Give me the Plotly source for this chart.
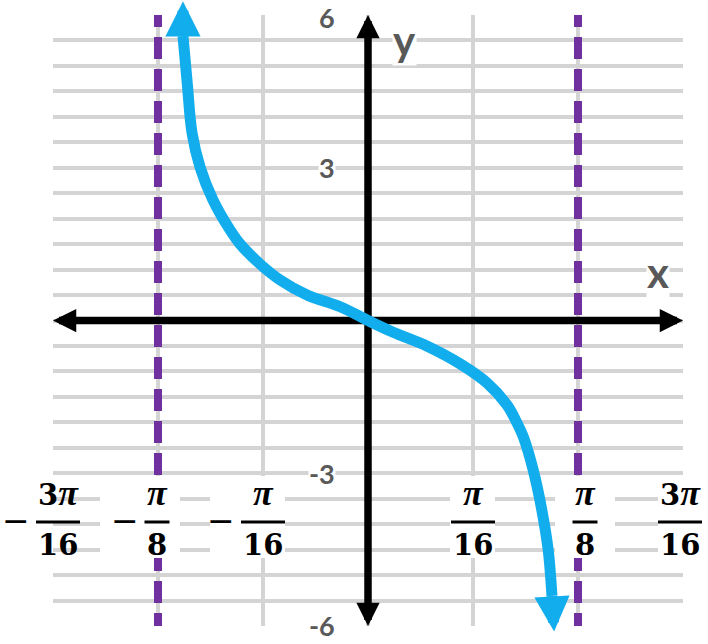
import math
import plotly.graph_objects as go

PI = math.pi

# ---------------- data ----------------
x_range = [-3 * PI / 16, 3 * PI / 16]
y_range = [-6, 6]

x_tick_vals = [-3 * PI / 16, -PI / 8, -PI / 16, PI / 16, PI / 8, 3 * PI / 16]
x_tick_coef = ["3", "", "", "", "", "3"]
x_tick_den = ["16", "8", "16", "16", "8", "16"]
x_tick_sign = ["−", "−", "−", "", "", ""]

y_tick_vals = [6, 3, -3, -6]
y_tick_text = ["6", "3", "-3", "-6"]

asymptote_x = [-PI / 8, PI / 8]

# curve (from the upper-left branch end to the lower-right one)
curve_x = [-0.346, -0.338, -0.329, -0.314, -0.290, -0.258, -0.239, -0.202, -0.165,
           -0.114, -0.052, 0.0, 0.047, 0.110, 0.172, 0.223, 0.260, 0.279, 0.291,
           0.309, 0.325, 0.337, 0.344]
curve_y = [5.59, 4.66, 3.68, 3.01, 2.37, 1.78, 1.50, 1.11, 0.80,
           0.50, 0.27, 0.0, -0.23, -0.50, -0.85, -1.23, -1.66, -2.02, -2.30,
           -2.94, -3.72, -4.51, -5.41]
arrow_tip_top = (-0.346, 6.27)
arrow_tip_bottom = (0.348, -6.11)

# ---------------- geometry / style ----------------
W, H = 708, 644
ML, MR, MT, MB = 53, 25, 15, 18
PW, PH = W - ML - MR, H - MT - MB
DX = (x_range[1] - x_range[0]) / PW   # data per px
DY = (y_range[1] - y_range[0]) / PH


def px2px(px):      # page px -> paper x
    return (px - ML) / PW


def py2py(py):      # page px -> paper y
    return 1 - (py - MT) / PH


def px2x(px):       # page px -> data x
    return x_range[0] + (px - ML) * DX


def py2y(py):       # page px -> data y
    return y_range[1] - (py - MT) * DY


BLUE = "#12ADEC"
PURPLE = "#7030A0"
GRID = "#D4D4D4"
GRAY = "#595959"

fig = go.Figure()

# axes lines (black), stopping a little short of the tips so the heads stay sharp
inset_x = 12 * DX
inset_y = 12 * DY
fig.add_trace(go.Scatter(x=[x_range[0] + inset_x, x_range[1] - inset_x], y=[0, 0],
                         mode="lines", line=dict(color="black", width=7.5),
                         hoverinfo="skip", showlegend=False))
fig.add_trace(go.Scatter(x=[0, 0], y=[y_range[0] + inset_y, y_range[1] - inset_y],
                         mode="lines", line=dict(color="black", width=7.5),
                         hoverinfo="skip", showlegend=False))

# the curve
fig.add_trace(go.Scatter(x=curve_x, y=curve_y, mode="lines",
                         line=dict(color=BLUE, width=11, shape="spline", smoothing=1.0),
                         hoverinfo="skip", showlegend=False, cliponaxis=False))

shapes = []
# asymptotes (below traces, above grid)
for ax_x in asymptote_x:
    shapes.append(dict(type="line", xref="x", yref="y", layer="between",
                       x0=ax_x, x1=ax_x, y0=y_range[1] + 10 * DY, y1=y_range[0],
                       line=dict(color=PURPLE, width=8, dash="22px,10px")))

# white boxes behind the fraction labels (page px extents)
box_l = [None, 100, 210, 450, 555, 658]
box_r = [None, 180, 285, 495, 615, 712]
for bl, br in zip(box_l, box_r):
    if bl is None:
        continue
    shapes.append(dict(type="rect", xref="x", yref="y", layer="between",
                       x0=px2x(bl), x1=px2x(br), y0=py2y(476), y1=py2y(558),
                       fillcolor="white", line=dict(width=0)))

annotations = []


def head(tip, tail, color, width, size):
    return dict(x=tip[0], y=tip[1], ax=tail[0], ay=tail[1], xref="x", yref="y",
                axref="x", ayref="y", text="", showarrow=True, arrowhead=2,
                arrowsize=size, arrowwidth=width, arrowcolor=color,
                borderpad=0, borderwidth=0, standoff=0, startstandoff=0)


# axis arrowheads
d = 20
annotations.append(head((x_range[1], 0), (x_range[1] - d * DX, 0), "black", 7.5, 0.62))
annotations.append(head((x_range[0], 0), (x_range[0] + d * DX, 0), "black", 7.5, 0.62))
annotations.append(head((0, y_range[1]), (0, y_range[1] - d * DY), "black", 7.5, 0.62))
annotations.append(head((0, y_range[0]), (0, y_range[0] + d * DY), "black", 7.5, 0.62))

# curve arrowheads
annotations.append(head(arrow_tip_top, (curve_x[0], curve_y[0]), BLUE, 11, 0.64))
annotations.append(head(arrow_tip_bottom, (curve_x[-1], curve_y[-1]), BLUE, 11, 0.64))

# fraction tick labels
label_dx = [5, -1, 0, 0, 7, -3]
DIG_FONT = dict(family="DejaVu Serif", size=29, color="black")
PI_SPAN = "<span style='font-family:Liberation Serif;font-size:36px'><i>π</i></span>"
for v, coef, den, sg, ddx in zip(x_tick_vals, x_tick_coef, x_tick_den, x_tick_sign, label_dx):
    cpx = ML + (v - x_range[0]) / DX + ddx
    half = 22 if len(den) == 2 else 12.5
    annotations.append(dict(x=px2px(cpx), y=py2py(493), xref="paper", yref="paper",
                            text="<b>" + coef + PI_SPAN + "</b>", showarrow=False,
                            xanchor="center", yanchor="middle", font=DIG_FONT))
    annotations.append(dict(x=px2px(cpx), y=py2py(545), xref="paper", yref="paper",
                            text="<b>" + den + "</b>", showarrow=False,
                            xanchor="center", yanchor="middle", font=DIG_FONT))
    shapes.append(dict(type="line", xref="paper", yref="paper", layer="above",
                       x0=px2px(cpx - half), x1=px2px(cpx + half),
                       y0=py2py(522), y1=py2py(522), line=dict(color="black", width=3)))
    if sg:
        annotations.append(dict(x=px2px(cpx - half - 20), y=py2py(520), xref="paper",
                                yref="paper", text=sg, showarrow=False, xanchor="center",
                                yanchor="middle",
                                font=dict(family="DejaVu Sans", size=33, color="black")))

# y tick labels
tick_nudge = {6: 2, -6: -1}
for v, t in zip(y_tick_vals, y_tick_text):
    annotations.append(dict(x=px2px(336), y=v, xref="paper", yref="y",
                            yshift=-tick_nudge.get(v, 0),
                            text="<b>" + t + "</b>",
                            showarrow=False, xanchor="right", yanchor="middle",
                            bgcolor="white", borderpad=0,
                            font=dict(family="Lato", size=27, color=GRAY)))

# axis titles
annotations.append(dict(x=px2px(404), y=py2py(40), xref="paper", yref="paper",
                        text="<b>y</b>", showarrow=False, xanchor="center",
                        yanchor="middle", bgcolor="white", borderpad=0,
                        font=dict(family="Lato", size=42, color=GRAY)))
annotations.append(dict(x=px2px(658), y=py2py(272), xref="paper", yref="paper",
                        text="<b>x</b>", showarrow=False, xanchor="center",
                        yanchor="middle", bgcolor="white", borderpad=0,
                        font=dict(family="Lato", size=42, color=GRAY)))

grid_x = [k * PI / 16 for k in range(-3, 4)]
grid_y = [k * 0.5 for k in range(-12, 13)]

fig.update_layout(
    width=W, height=H,
    margin=dict(l=ML, r=MR, t=MT, b=MB, pad=0),
    paper_bgcolor="white", plot_bgcolor="white",
    showlegend=False,
    shapes=shapes, annotations=annotations,
    xaxis=dict(range=x_range, tickmode="array", tickvals=grid_x, showticklabels=False,
               ticks="", showgrid=True, gridcolor=GRID, gridwidth=3.5, zeroline=False,
               showline=False, fixedrange=True),
    yaxis=dict(range=y_range, tickmode="array", tickvals=grid_y, showticklabels=False,
               ticks="", showgrid=True, gridcolor=GRID, gridwidth=3.5, zeroline=False,
               showline=False, fixedrange=True),
)

fig.write_html(
    "out.html",
    config={"displayModeBar": False},
    post_script="document.documentElement.style.margin='0';"
                "document.body.style.margin='0';document.body.style.padding='0';"
                "document.body.style.overflow='hidden';",
)
